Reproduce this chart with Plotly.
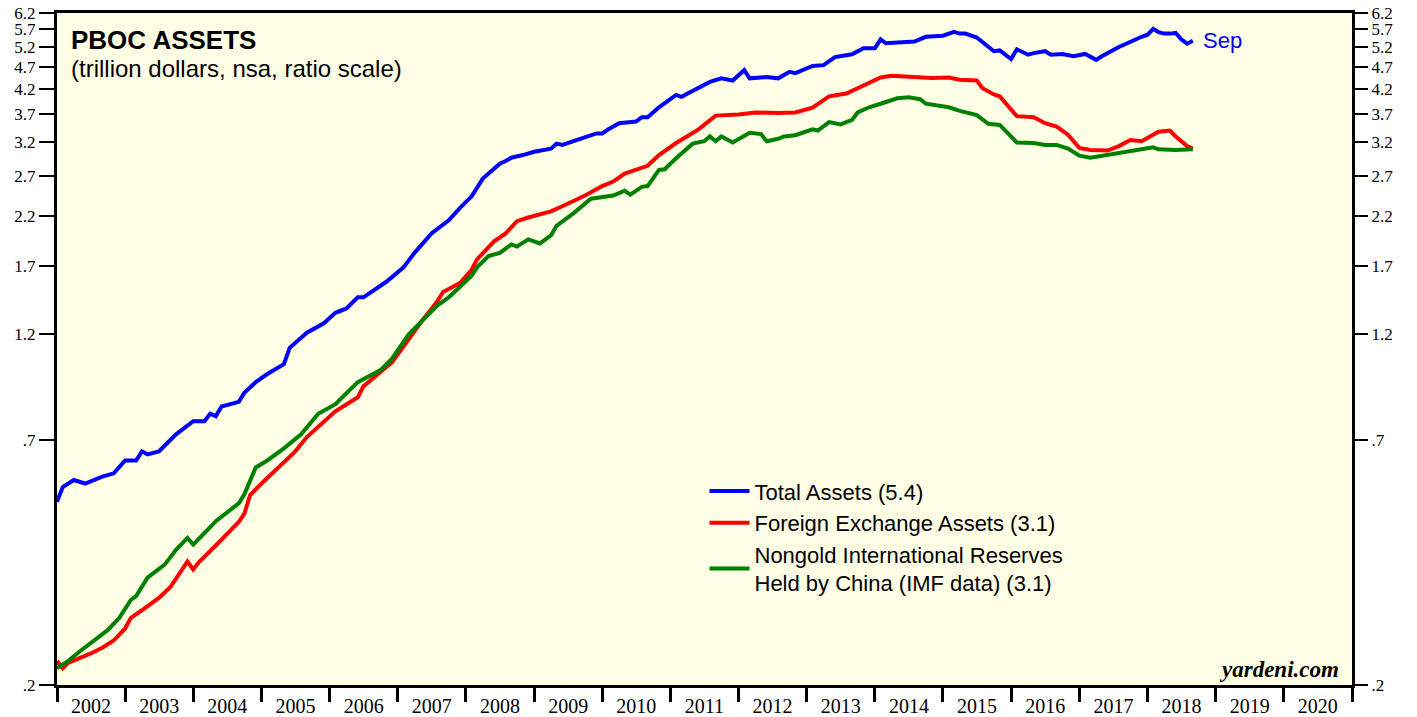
import math
import plotly.graph_objects as go

# ---------------- data (trillion US$) ----------------
total_dates = ["2002-01","2002-02","2002-04","2002-06","2002-09","2002-11","2003-01","2003-03","2003-04","2003-05",
               "2003-07","2003-10","2004-01","2004-03","2004-04","2004-05","2004-06","2004-09","2004-10","2004-12",
               "2005-02","2005-05","2005-06","2005-09","2005-12","2006-02","2006-04","2006-06","2006-07","2006-11",
               "2007-02","2007-04","2007-07","2007-08","2007-09","2007-10","2007-12","2008-02","2008-04","2008-07",
               "2008-08","2008-09","2008-11","2009-01","2009-04","2009-05","2009-06","2009-08","2009-10","2009-12",
               "2010-01","2010-02","2010-04","2010-07","2010-08","2010-09","2010-11","2010-12","2011-02","2011-03",
               "2011-05","2011-08","2011-10","2011-12","2012-02","2012-03","2012-06","2012-08","2012-10","2012-11",
               "2013-02","2013-04","2013-06","2013-09","2013-11","2014-01","2014-02","2014-03","2014-08","2014-10",
               "2015-01","2015-03","2015-04","2015-05","2015-07","2015-10","2015-11","2016-01","2016-02","2016-04",
               "2016-05","2016-07","2016-08","2016-10","2016-12","2017-02","2017-04","2017-05","2017-08","2017-10",
               "2017-12","2018-01","2018-02","2018-03","2018-04","2018-05","2018-06","2018-07","2018-08","2018-09"]
total_vals = [0.51,0.55,0.57,0.56,0.58,0.59,0.63,0.63,0.66,0.65,
              0.66,0.72,0.77,0.77,0.80,0.79,0.83,0.85,0.89,0.94,
              0.98,1.03,1.12,1.21,1.27,1.34,1.37,1.45,1.45,1.57,
              1.69,1.82,2.01,2.06,2.11,2.15,2.29,2.43,2.66,2.87,
              2.91,2.96,3.00,3.05,3.10,3.18,3.16,3.22,3.29,3.35,
              3.35,3.42,3.53,3.56,3.64,3.64,3.83,3.91,4.08,4.04,
              4.16,4.36,4.44,4.39,4.63,4.44,4.47,4.44,4.59,4.56,
              4.73,4.75,4.95,5.02,5.18,5.18,5.42,5.31,5.36,5.49,
              5.52,5.63,5.58,5.58,5.47,5.10,5.12,4.90,5.15,5.01,
              5.05,5.10,5.01,5.03,4.97,5.03,4.88,4.97,5.21,5.36,
              5.49,5.55,5.72,5.62,5.58,5.58,5.60,5.42,5.30,5.38]

fx_dates = ["2002-01","2002-02","2002-03","2002-05","2002-07","2002-09","2002-11","2003-01","2003-02","2003-04",
            "2003-07","2003-09","2003-12","2004-01","2004-02","2004-05","2004-07","2004-09","2004-10","2004-11",
            "2005-01","2005-04","2005-07","2005-09","2005-12","2006-02","2006-06","2006-07","2006-10","2006-12",
            "2007-03","2007-05","2007-08","2007-09","2007-12","2008-02","2008-03","2008-05","2008-06","2008-08",
            "2008-10","2008-12","2009-04","2009-06","2009-08","2009-10","2010-01","2010-03","2010-05","2010-07",
            "2010-09","2010-11","2011-01","2011-02","2011-06","2011-09","2012-01","2012-04","2012-08","2012-11",
            "2013-02","2013-05","2013-08","2013-11","2014-02","2014-04","2014-08","2014-11","2015-02","2015-04",
            "2015-07","2015-08","2015-10","2015-11","2016-02","2016-05","2016-07","2016-09","2016-11","2017-01",
            "2017-03","2017-06","2017-08","2017-10","2017-12","2018-03","2018-05","2018-06","2018-08","2018-09"]
fx_vals = [0.226,0.218,0.224,0.229,0.235,0.242,0.251,0.267,0.282,0.293,
           0.312,0.330,0.376,0.361,0.375,0.408,0.434,0.460,0.480,0.528,
           0.560,0.609,0.660,0.710,0.770,0.810,0.870,0.920,0.990,1.040,
           1.170,1.270,1.420,1.490,1.560,1.670,1.760,1.870,1.930,2.010,
           2.140,2.180,2.250,2.310,2.370,2.440,2.560,2.620,2.730,2.790,
           2.840,3.000,3.120,3.190,3.420,3.670,3.690,3.730,3.720,3.730,
           3.820,4.050,4.110,4.270,4.460,4.500,4.460,4.450,4.460,4.410,
           4.390,4.220,4.090,4.050,3.660,3.640,3.530,3.470,3.330,3.110,
           3.080,3.070,3.140,3.240,3.220,3.380,3.400,3.300,3.140,3.100]

res_dates = ["2002-01","2002-03","2002-05","2002-07","2002-10","2002-12","2003-02","2003-03","2003-05","2003-08",
             "2003-10","2003-12","2004-01","2004-04","2004-05","2004-09","2004-10","2004-12","2005-02","2005-05",
             "2005-08","2005-11","2006-02","2006-06","2006-10","2006-12","2007-03","2007-08","2007-10","2007-12",
             "2008-02","2008-03","2008-05","2008-07","2008-09","2008-10","2008-12","2009-02","2009-04","2009-05",
             "2009-08","2009-11","2010-03","2010-05","2010-06","2010-08","2010-09","2010-11","2010-12","2011-02",
             "2011-05","2011-07","2011-08","2011-09","2011-10","2011-12","2012-03","2012-05","2012-06","2012-08",
             "2012-09","2012-11","2013-02","2013-03","2013-05","2013-07","2013-09","2013-10","2013-12","2014-02",
             "2014-05","2014-07","2014-09","2014-10","2015-02","2015-04","2015-07","2015-09","2015-11","2016-02",
             "2016-05","2016-07","2016-09","2016-11","2017-01","2017-03","2017-05","2017-08","2017-10","2018-02",
             "2018-03","2018-06","2018-09"]
res_vals = [0.218,0.226,0.237,0.248,0.265,0.282,0.309,0.315,0.346,0.370,
            0.399,0.424,0.410,0.448,0.462,0.506,0.530,0.608,0.630,0.670,
            0.720,0.800,0.840,0.940,1.000,1.060,1.200,1.390,1.450,1.530,
            1.620,1.690,1.790,1.820,1.900,1.880,1.950,1.910,1.990,2.090,
            2.230,2.400,2.440,2.500,2.450,2.550,2.560,2.780,2.790,2.950,
            3.180,3.220,3.300,3.220,3.300,3.200,3.360,3.340,3.220,3.260,
            3.300,3.320,3.420,3.400,3.550,3.510,3.590,3.730,3.830,3.900,
            4.010,4.030,3.990,3.900,3.830,3.760,3.680,3.520,3.500,3.200,
            3.190,3.160,3.160,3.100,2.990,2.960,2.990,3.030,3.070,3.120,
            3.090,3.080,3.090]

series_names = ["Total Assets (5.4)",
                "Foreign Exchange Assets (3.1)",
                "Nongold International Reserves<br>Held by China (IMF data) (3.1)"]
series_colors = ["#0000FF", "#FF0000", "#008000"]

y_ticks = [0.2, 0.7, 1.2, 1.7, 2.2, 2.7, 3.2, 3.7, 4.2, 4.7, 5.2, 5.7, 6.2]
y_ticktext = [".2", ".7", "1.2", "1.7", "2.2", "2.7", "3.2", "3.7", "4.2", "4.7", "5.2", "5.7", "6.2"]

def d(lst):
    return [s + "-01" for s in lst]

fig = go.Figure()
for dates, vals, name, col in [(total_dates, total_vals, series_names[0], series_colors[0]),
                               (fx_dates, fx_vals, series_names[1], series_colors[1]),
                               (res_dates, res_vals, series_names[2], series_colors[2])]:
    fig.add_trace(go.Scatter(x=d(dates), y=vals, mode="lines", name=name,
                             line=dict(color=col, width=4)))

# invisible trace to carry the right-hand axis
fig.add_trace(go.Scatter(x=d(total_dates[:1]), y=total_vals[:1], yaxis="y2", mode="lines",
                         line=dict(width=0), showlegend=False, hoverinfo="skip"))

ytickfont = dict(family="Liberation Serif", size=17, color="black")
xtickfont = dict(family="Liberation Serif", size=20, color="black")
yaxis_common = dict(type="log", range=[math.log10(0.2), math.log10(6.2)],
                    tickvals=y_ticks, ticktext=y_ticktext, ticks="outside", ticklen=15,
                    tickwidth=1.5, tickcolor="black", showgrid=False, zeroline=False,
                    tickfont=ytickfont, automargin=False)

fig.update_layout(
    width=1417, height=717,
    margin=dict(l=57, r=65, t=13, b=32),
    paper_bgcolor="white",
    plot_bgcolor="#FFFFE6",
    showlegend=True,
    legend=dict(x=0.5, y=0.3195, xanchor="left", yanchor="top",
                font=dict(family="Liberation Sans", size=22, color="black"),
                bgcolor="rgba(0,0,0,0)", tracegroupgap=0, itemwidth=40),
    xaxis=dict(type="date", range=["2002-01-01", "2021-01-01"], dtick="M12", tick0="2002-01-01",
               tickformat="%Y", ticklabelmode="period", ticks="outside", ticklen=14, tickwidth=3,
               ticklabelstandoff=-13,
               tickcolor="black", showgrid=False, zeroline=False, showline=True, linewidth=3,
               linecolor="black", mirror=True, tickfont=xtickfont, automargin=False),
    yaxis=dict(**yaxis_common, showline=True, linewidth=3, linecolor="black", mirror=True),
    yaxis2=dict(**yaxis_common, overlaying="y", side="right", showline=False),
)

fig.add_annotation(xref="paper", yref="paper", x=0.009, y=0.985, xanchor="left", yanchor="top",
                   text="<b>PBOC ASSETS</b>", showarrow=False,
                   font=dict(family="Liberation Sans", size=26, color="black"))
fig.add_annotation(xref="paper", yref="paper", x=0.009, y=0.94, xanchor="left", yanchor="top",
                   text="(trillion dollars, nsa, ratio scale)", showarrow=False,
                   font=dict(family="Liberation Sans", size=24, color="black"))
fig.add_annotation(x=d(total_dates)[-1], y=math.log10(total_vals[-1]), xanchor="left", yanchor="middle",
                   xshift=8, text="Sep", showarrow=False,
                   font=dict(family="Liberation Sans", size=22, color="#0000FF"))
fig.add_annotation(xref="paper", yref="paper", x=0.9915, y=0.002, xanchor="right", yanchor="bottom",
                   text="<b><i>yardeni.com</i></b>", showarrow=False,
                   font=dict(family="Liberation Serif", size=23, color="black"))

fig.write_html("out.html", config={"displayModeBar": False},
               post_script="document.body.style.margin='0';document.body.style.overflow='hidden';")
